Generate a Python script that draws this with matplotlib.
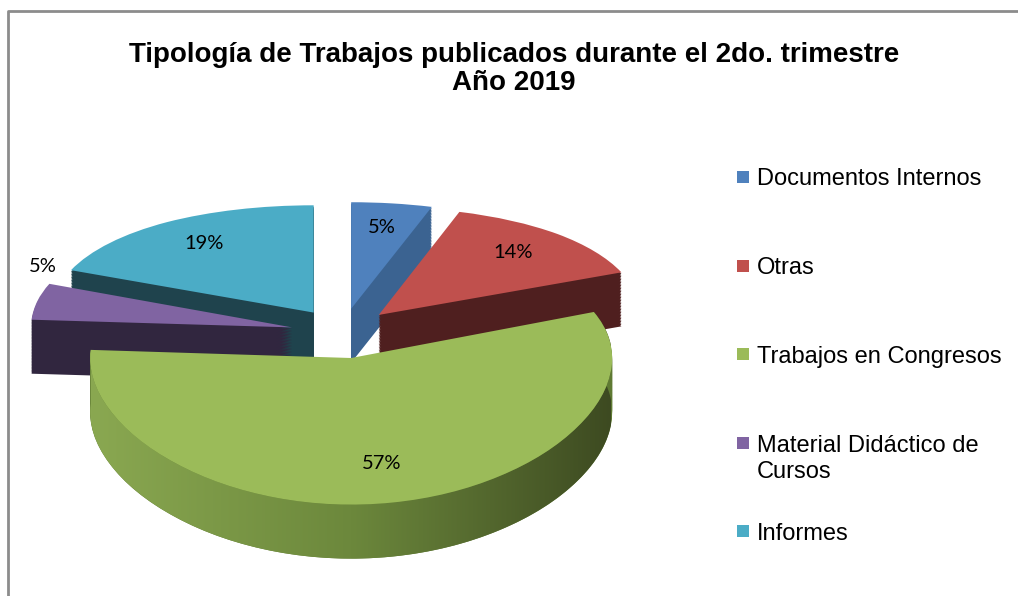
import numpy as np
import matplotlib.pyplot as plt
import matplotlib.transforms as mtransforms
from matplotlib.colors import LinearSegmentedColormap
from matplotlib.patches import Polygon, Rectangle
from matplotlib.lines import Line2D

categorias = ['Documentos Internos', 'Otras', 'Trabajos en Congresos',
              'Material Didáctico de\nCursos', 'Informes']
porcentajes = [5, 14, 57, 5, 19]
colores = ['#4f81bd', '#c0504d', '#9bbb59', '#8064a2', '#4bacc6']
colores_lado = ['#3b6391', '#4f1f1f', '#5f7a33', '#31263f', '#1f434d']
titulo = 'Tipología de Trabajos publicados durante el 2do. trimestre\nAño 2019'

W, H = 1018, 596
fig = plt.figure(figsize=(W / 100, H / 100), dpi=100)
ax = fig.add_axes([0, 0, 1, 1])
ax.axis('off')

# perspectiva simple: eje y no lineal (fondo comprimido, frente estirado)
a = 0.229
def fwd(y):
    return (1 - np.exp(-a * np.asarray(y))) / a
def inv(g):
    return -np.log(np.clip(1 - a * np.asarray(g), 1e-9, None)) / a
ax.set_yscale('function', functions=(fwd, inv))

prof = 54   # grosor del pastel en pixeles
n = 36
pie_kw = dict(explode=[0.2] * len(porcentajes), startangle=90, counterclock=False,
              wedgeprops=dict(linewidth=0))

# cara superior
top, _, pcts = ax.pie(porcentajes, colors=colores, autopct='%1.0f%%', pctdistance=0.75,
                      textprops=dict(fontsize=14.5, family='Lato', color='black'), **pie_kw)
orden = np.argsort([-w.center[1] for w in top])
rango = np.empty(len(top), int)
rango[orden] = np.arange(len(top))
for w in top:
    w.set_zorder(3)
for t in pcts:
    t.set_zorder(4)

# etiqueta de Material Didactico afuera, arriba a la izquierda
wp = top[3]
mid = np.radians((wp.theta1 + wp.theta2) / 2)
pcts[3].set_position((wp.center[0] + wp.r * np.cos(mid) + 0.02, wp.center[1] + 0.52))

# lados: copias apiladas desplazadas hacia abajo
for k in range(n):
    off = prof * (1 - k / n)
    tr = mtransforms.offset_copy(ax.transData, fig=fig, x=0, y=-off, units='dots')
    lados, _ = ax.pie(porcentajes, colors=colores_lado, labeldistance=None, **pie_kw)
    for i, w in enumerate(lados):
        w.set_transform(tr)
        w.set_zorder(1 + rango[i] * 0.1 + k * 0.001)

kx, cx = 261.0, 343.0
ax.set_xlim(-cx / kx, (W - cx) / kx)
K = (505 - 202) / (fwd(1.2) - fwd(-1.2))
g0 = 202 + fwd(1.2) * K
ax.set_ylim(inv(-(H - g0) / K), inv(g0 / K))
ax.set_aspect('auto')

# degradado en el borde de Trabajos en Congresos
wv = top[2]
th = np.radians(np.linspace(wv.theta1, wv.theta2, 300))
arco = np.column_stack([wv.center[0] + wv.r * np.cos(th), wv.center[1] + wv.r * np.sin(th)])
disp = ax.transData.transform(arco)
abajo = ax.transData.inverted().transform(disp - [0, prof])
banda = Polygon(np.vstack([arco, abajo[::-1]]), closed=True, transform=ax.transData)
cmap = LinearSegmentedColormap.from_list('verde', ['#8aa851', '#6c883c', '#3d4a21'])
img = ax.imshow(np.linspace(0, 1, 256)[None, :], cmap=cmap, aspect='auto',
                extent=(arco[:, 0].min(), arco[:, 0].max(), 0, 1),
                transform=ax.get_xaxis_transform(), zorder=1 + rango[2] * 0.1 + 0.05)
img.set_clip_path(banda)
ax.set_xlim(-cx / kx, (W - cx) / kx)
ax.set_ylim(inv(-(H - g0) / K), inv(g0 / K))

fig.text(514 / W, 1 - 68.5 / H, titulo, ha='center', va='center', fontsize=20,
         fontweight='bold', family='Liberation Sans', linespacing=1.1)

# leyenda
for i, (cat, col) in enumerate(zip(categorias, colores)):
    yc = 177 + i * 88.5
    extra = cat.count('\n') * 27
    fig.add_artist(Rectangle((737 / W, 1 - (yc + 6) / H), 12 / W, 12 / H,
                             transform=fig.transFigure, facecolor=col, edgecolor='none'))
    fig.text(757 / W, 1 - (yc + 8.5 + extra) / H, cat, ha='left', va='baseline', fontsize=17,
             family='Liberation Sans', linespacing=1.22)

fig.add_artist(Line2D([7.5 / W, 7.5 / W, 1], [0, 1 - 11 / H, 1 - 11 / H],
                      transform=fig.transFigure, color='#8c8c8c', lw=2))

fig.savefig('out.png', dpi=100)
